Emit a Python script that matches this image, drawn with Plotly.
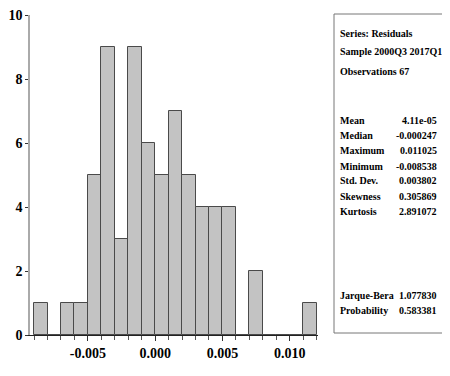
import plotly.graph_objects as go

# Histogram data (bins of width 0.001 starting at -0.009)
bin_start = -0.009
bin_width = 0.001
counts = [1, 0, 1, 1, 5, 9, 3, 9, 6, 5, 7, 5, 4, 4, 4, 0, 2, 0, 0, 0, 1]

x_tickvals = [-0.005, 0.0, 0.005, 0.010]
x_ticktext = ["-0.005", "0.000", "0.005", "0.010"]
y_tickvals = [0, 2, 4, 6, 8, 10]

stats_header = ["Series: Residuals", "Sample 2000Q3 2017Q1", "Observations 67"]
stat_names = ["Mean", "Median", "Maximum", "Minimum", "Std. Dev.", "Skewness", "Kurtosis"]
stat_values = ["4.11e-05", "-0.000247", "0.011025", "-0.008538", "0.003802", "0.305869", "2.891072"]
test_names = ["Jarque-Bera", "Probability"]
test_values = ["1.077830", "0.583381"]

centers = [bin_start + bin_width * (i + 0.5) for i in range(len(counts))]

# The page body has an 8px default margin; lay out the figure so that it
# lands on the intended window pixels.
OFF = 8
W, H = 450 - OFF, 376 - OFF
L, T = 30 - OFF, 15 - OFF
R = W - (318 - OFF)
B = H - (335 - OFF)
PW, PH = W - L - R, H - T - B


def px(xp):
    return (xp - OFF - L) / PW


def py(yp):
    return (H - B - (yp - OFF)) / PH


FONT = "Liberation Serif"

fig = go.Figure()
fig.add_trace(go.Bar(
    x=centers, y=counts, width=bin_width,
    marker=dict(color="#c3c3c3", line=dict(color="#4a4a4a", width=1)),
    hoverinfo="x+y",
))

fig.update_layout(
    width=W, height=H,
    margin=dict(l=L, r=R, t=T, b=B, autoexpand=False),
    paper_bgcolor="white", plot_bgcolor="white",
    showlegend=False, bargap=0,
    font=dict(family=FONT, color="black", size=13, weight="bold"),
    xaxis=dict(
        range=[-0.0093, 0.0121], automargin=False,
        tickvals=x_tickvals, ticktext=x_ticktext,
        ticks="outside", ticklen=5, tickcolor="#333", tickwidth=1,
        minor=dict(dtick=bin_width, tick0=0, ticks="outside", ticklen=4, tickcolor="#555"),
        showline=True, linecolor="#222", linewidth=1,
        showgrid=False, zeroline=False,
        tickfont=dict(family=FONT, size=14, weight="bold"),
    ),
    yaxis=dict(
        range=[0, 10.01], automargin=False,
        tickvals=y_tickvals,
        ticks="outside", ticklen=3, tickcolor="#333", tickwidth=1,
        showline=True, linecolor="#aaaaaa", linewidth=1.5,
        showgrid=False, zeroline=False,
        tickfont=dict(family=FONT, size=14, weight="bold"),
    ),
)

# Stats box
fig.add_shape(type="rect", xref="paper", yref="paper",
              x0=px(334), x1=px(443), y0=py(333), y1=py(14),
              line=dict(color="#777", width=1), fillcolor="rgba(0,0,0,0)")

sfont = dict(family=FONT, size=10, color="black", weight="bold")
header_y = [33, 52, 71]
for txt, yy in zip(stats_header, header_y):
    fig.add_annotation(xref="paper", yref="paper", x=px(338), y=py(yy), text=txt,
                       showarrow=False, xanchor="left", yanchor="middle", font=sfont)

stat_y = [120, 135, 150, 166, 180, 196, 211]
for n, v, yy in zip(stat_names, stat_values, stat_y):
    fig.add_annotation(xref="paper", yref="paper", x=px(338), y=py(yy), text=n,
                       showarrow=False, xanchor="left", yanchor="middle", font=sfont)
    fig.add_annotation(xref="paper", yref="paper", x=px(439), y=py(yy), text=v,
                       showarrow=False, xanchor="right", yanchor="middle", font=sfont)

test_y = [295, 310]
for n, v, yy in zip(test_names, test_values, test_y):
    fig.add_annotation(xref="paper", yref="paper", x=px(338), y=py(yy), text=n,
                       showarrow=False, xanchor="left", yanchor="middle", font=sfont)
    fig.add_annotation(xref="paper", yref="paper", x=px(439), y=py(yy), text=v,
                       showarrow=False, xanchor="right", yanchor="middle", font=sfont)

fig.write_html("out.html")
